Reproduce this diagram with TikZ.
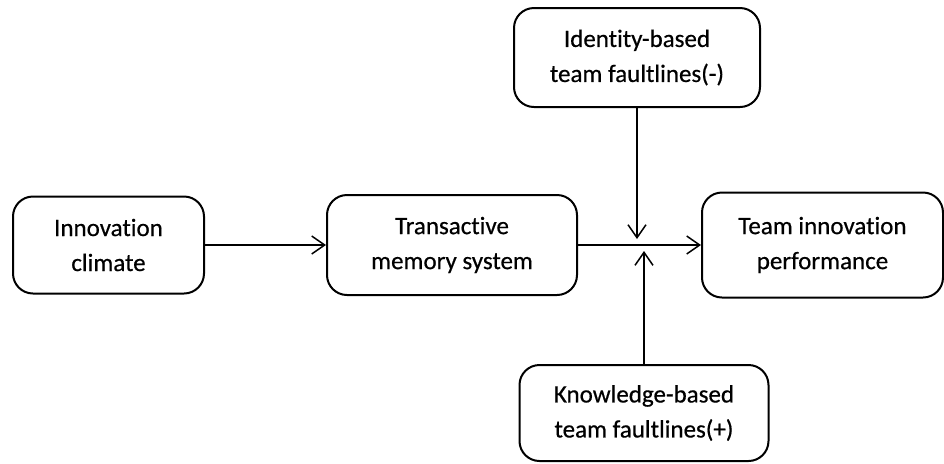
\documentclass[tikz,border=0pt]{standalone}
\usepackage{fontspec}
\setmainfont{Carlito}[Ligatures={NoCommon}, FakeBold=0.5]
\usetikzlibrary{arrows.meta}

\begin{document}
\begin{tikzpicture}[
  x=0.5pt, y=-0.5pt,
  box/.style={draw=black, line width=1pt, rounded corners=10pt, align=center,
    inner sep=2pt, font=\fontsize{12.5}{17.5}\selectfont},
  arr/.style={draw=black, line width=0.75pt, -{Straight Barb[length=6.5pt, width=9pt, line width=0.75pt]}}
]

  % ==========================================
  % 1. CAJAS (variables del modelo)
  % ==========================================
  \useasboundingbox (0,0) rectangle (944,463);

  \node[box, minimum width=95.5pt, minimum height=48.5pt] (clim) at (108.5,245) {Innovation\\climate};
  \node[box, minimum width=125pt, minimum height=50pt] (tms) at (452,245) {Transactive\\memory system};
  \node[box, minimum width=120.5pt, minimum height=52.5pt] (perf) at (822.5,245) {Team innovation\\performance};
  \node[box, minimum width=123pt, minimum height=49.5pt] (ident) at (637,57.5) {Identity-based\\team faultlines(-)};
  \node[box, minimum width=124.5pt, minimum height=48pt] (know) at (644,413) {Knowledge-based\\team faultlines(+)};

  % ==========================================
  % 2. FLECHAS (efecto principal y moderadores)
  % ==========================================
  \coordinate (jtop) at (637,239);
  \coordinate (jbot) at (644,251);

  \draw[arr] (clim) -- (tms);
  \draw[arr] (tms) -- (perf);
  \draw[arr] (ident) -- (jtop);
  \draw[arr] (know) -- (jbot);

\end{tikzpicture}
\end{document}
